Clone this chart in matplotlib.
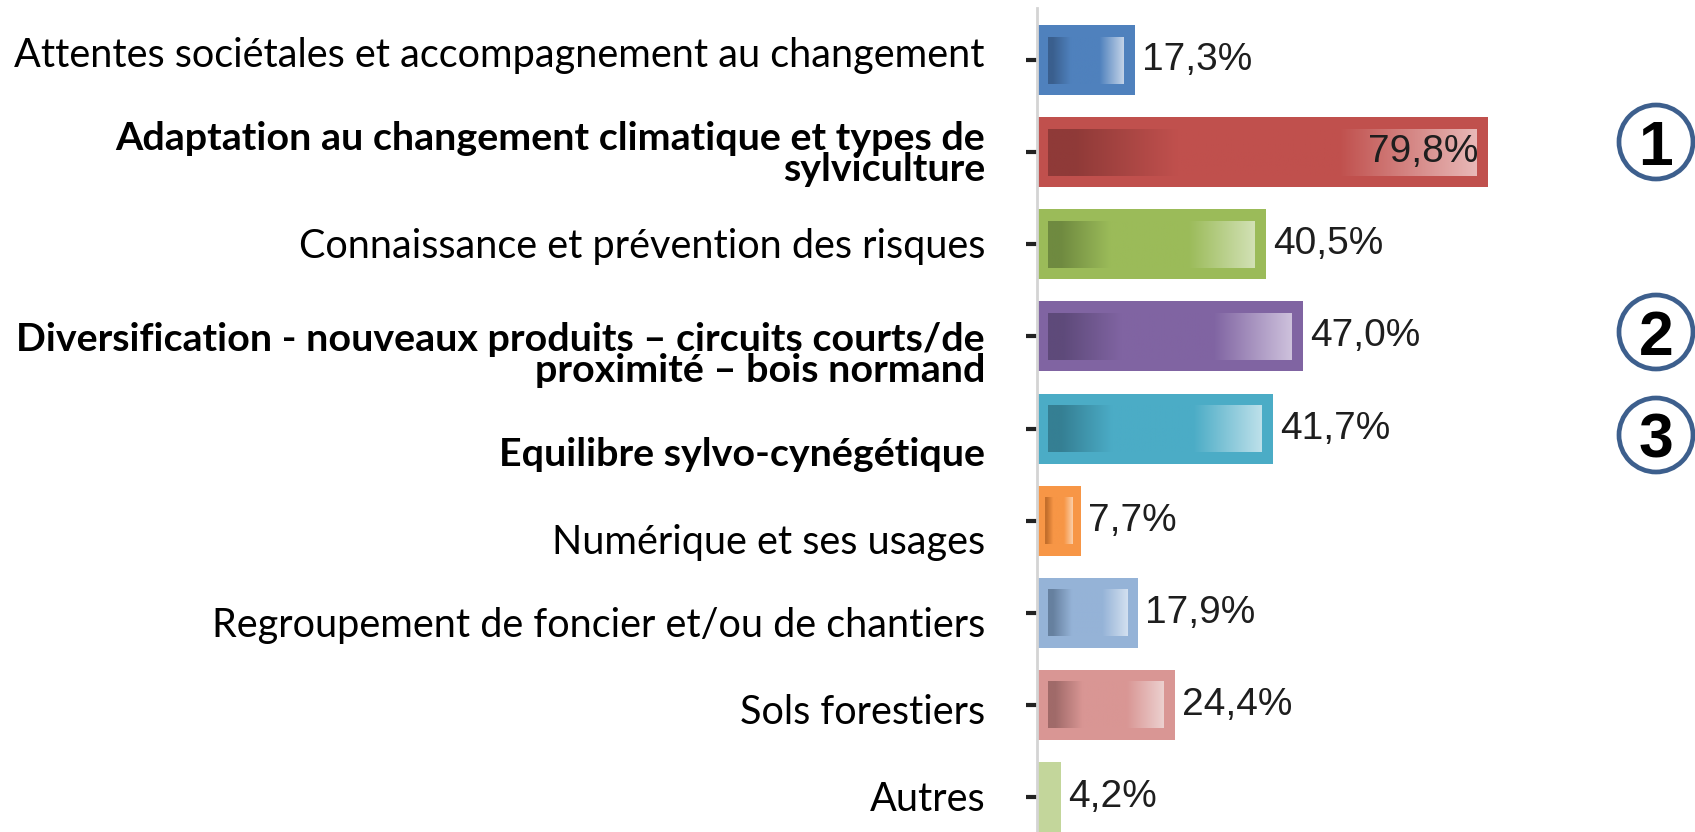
import matplotlib
matplotlib.use("Agg")
import matplotlib.pyplot as plt
import matplotlib.transforms as mtransforms
from matplotlib.colors import LinearSegmentedColormap
from matplotlib.patches import Ellipse
import numpy as np

categories = [
    "Attentes sociétales et accompagnement au changement",
    "Adaptation au changement climatique et types de\nsylviculture",
    "Connaissance et prévention des risques",
    "Diversification - nouveaux produits – circuits courts/de\nproximité – bois normand",
    "Equilibre sylvo-cynégétique",
    "Numérique et ses usages",
    "Regroupement de foncier et/ou de chantiers",
    "Sols forestiers",
    "Autres",
]
values = [17.3, 79.8, 40.5, 47.0, 41.7, 7.7, 17.9, 24.4, 4.2]
bold = [False, True, False, True, True, False, False, False, False]
# base, dark, light
base_colors = ["#4f81bd", "#c0504d", "#9bbb59", "#8064a2", "#4bacc6",
               "#f79646", "#95b3d7", "#d99694", "#c3d69b"]
dark_colors = ["#3a5f8e", "#8f3a38", "#6f8a40", "#5e4a7a", "#357f93",
               "#c46f2c", "#66809f", "#a06a69", "#9fb67a"]
light_colors = ["#c3d3e8", "#e8b8b7", "#d2e1b5", "#cdc1dc", "#bde0ea",
                "#fbcfa9", "#d3e0f0", "#ecd0cf", "#dfe9cb"]
# vertical shift of each label relative to its bar (text boxes in the source)
label_shift = [-0.05, 0.02, 0.02, 0.2, 0.28, 0.24, 0.14, 0.08, 0.03]
badges = ["1", "2", "3"]
badge_y = [142, 332, 435]  # pixel rows in the picture

W, H = 1695, 832
fig = plt.figure(figsize=(W / 100, H / 100), dpi=100)
fig.patch.set_facecolor("white")
ax = fig.add_axes([1037 / W, 0, 565 / W, 1 - 8 / H])

n = len(values)
y = np.arange(n)
bar_h = 0.76

inset_y = 0.125
for i, v in enumerate(values):
    ax.barh(i, v, height=bar_h, color=base_colors[i], edgecolor="none", zorder=2)
    if v > 6:
        ix = 1.95 if v > 10 else 1.4
        cmap = LinearSegmentedColormap.from_list(
            "g%d" % i,
            [(0.0, dark_colors[i]), (0.06, dark_colors[i]),
             (0.3, base_colors[i]), (0.68, base_colors[i]),
             (1.0, light_colors[i])])
        grad = np.linspace(0, 1, 256).reshape(1, -1)
        ax.imshow(grad, cmap=cmap, aspect="auto", zorder=3,
                  extent=(ix, v - ix, i + bar_h / 2 - inset_y, i - bar_h / 2 + inset_y))

ax.set_xlim(0, 100)
ax.set_ylim(n - 1 + 0.38, -0.565)

val_font = ["Liberation Sans Narrow", "Liberation Sans"]
for i, v in enumerate(values):
    label = f"{v:.1f}".replace(".", ",") + "%"
    if v > 70:
        ax.text(v - 1.6, i, label, ha="right", va="center", fontsize=28,
                color="#1e1e1e", family=val_font, zorder=4)
    else:
        ax.text(v + 1.3, i, label, ha="left", va="center", fontsize=28,
                color="#1e1e1e", family=val_font, zorder=4)

trans = mtransforms.blended_transform_factory(fig.transFigure, ax.transData)
for i, lab in enumerate(categories):
    ax.text(985 / W, i + label_shift[i], lab, transform=trans, ha="right", va="center",
            multialignment="right", fontsize=28.4 if bold[i] else 28.5, family="Lato",
            fontweight="bold" if bold[i] else "normal", color="black",
            linespacing=0.85)

for s in ["top", "right", "bottom"]:
    ax.spines[s].set_visible(False)
ax.spines["left"].set_color("#d4d4d4")
ax.spines["left"].set_linewidth(2)
ax.set_xticks([])
ax.set_yticks(y)
ax.set_yticklabels([])
ax.tick_params(axis="y", length=8, width=3, color="#222222", direction="out")

for b, py in zip(badges, badge_y):
    cx, cy = 1656 / W, 1 - py / H
    fig.add_artist(Ellipse((cx, cy), 74 / W, 74 / H, transform=fig.transFigure,
                           facecolor="white", edgecolor="#3d5f8d", linewidth=3.4))
    fig.text(cx, cy, b, ha="center", va="center_baseline", fontsize=45,
             fontweight="bold", family="Liberation Sans", color="black")

fig.savefig("out.png", dpi=100, facecolor="white")
